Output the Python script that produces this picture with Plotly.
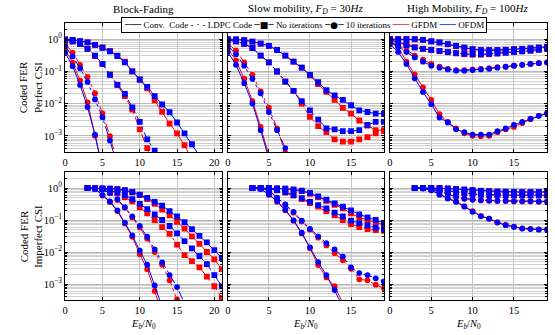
import plotly.graph_objects as go

W, H = 555, 335
RED = "#ff0000"
BLUE = "#0000ff"
FONT = "Liberation Serif"

# ---------------- data (x start, FER values) ----------------
# Panel 1: Block-Fading, perfect CSI (x starts at 0)
P1_CONV_NOIT_GFDM = [0.98, 0.95, 0.87, 0.79, 0.66, 0.55, 0.43, 0.31, 0.2, 0.1, 0.055, 0.03, 0.0126, 0.0056, 0.0024, 0.0012, 0.00052, 0.0002]
P1_CONV_NOIT_OFDM = [0.98, 0.95, 0.87, 0.79, 0.66, 0.54, 0.42, 0.3, 0.19, 0.1, 0.056, 0.033, 0.017, 0.0094, 0.0054, 0.0026, 0.0012, 0.00055, 0.00024]
P1_LDPC_NOIT_GFDM = [0.95, 0.85, 0.7, 0.5, 0.3, 0.17, 0.08, 0.038, 0.017, 0.0065, 0.0016, 0.00042, 0.0001]
P1_LDPC_NOIT_OFDM = [0.95, 0.85, 0.7, 0.5, 0.31, 0.17, 0.078, 0.038, 0.02, 0.0076, 0.0027, 0.00078, 0.00035, 0.0001]
P1_CONV_10IT_GFDM = [0.49, 0.185, 0.052, 0.011, 0.001, 0.0001]
P1_CONV_10IT_OFDM = [0.38, 0.145, 0.038, 0.0078, 0.0011, 0.0001]
P1_LDPC_10IT_GFDM = [0.72, 0.38, 0.16, 0.068, 0.021, 0.005, 0.00098, 0.00015]
P1_LDPC_10IT_OFDM = [0.6, 0.29, 0.125, 0.047, 0.0135, 0.0038, 0.00072, 0.00012]

# Panel 2: Slow mobility, perfect CSI (x starts at 0)
P2_CONV_NOIT_GFDM = [1.0, 0.98, 0.93, 0.84, 0.73, 0.62, 0.46, 0.31, 0.2, 0.13, 0.075, 0.04, 0.023, 0.013, 0.0074, 0.0049, 0.003, 0.0021, 0.0015, 0.0015]
P2_CONV_NOIT_OFDM = [1.0, 0.98, 0.93, 0.84, 0.73, 0.62, 0.46, 0.31, 0.2, 0.13, 0.078, 0.046, 0.026, 0.018, 0.013, 0.0089, 0.0062, 0.0055, 0.0049, 0.0049]
P2_LDPC_NOIT_GFDM = [0.93, 0.85, 0.72, 0.53, 0.31, 0.19, 0.099, 0.048, 0.025, 0.01, 0.0039, 0.002, 0.0013, 0.00078, 0.00066, 0.00066, 0.00078, 0.00091, 0.0012, 0.0014]
P2_LDPC_NOIT_OFDM = [0.93, 0.85, 0.72, 0.53, 0.31, 0.19, 0.099, 0.048, 0.025, 0.012, 0.0062, 0.0032, 0.0017, 0.0016, 0.0014, 0.0014, 0.0015, 0.0022, 0.0027, 0.0027]
P2_CONV_10IT_GFDM = [0.5, 0.22, 0.059, 0.012, 0.0019, 0.00025]
P2_CONV_10IT_OFDM = [0.4, 0.16, 0.043, 0.01, 0.0015, 0.0002]
P2_LDPC_10IT_GFDM = [0.72, 0.45, 0.19, 0.078, 0.024, 0.0075, 0.0017, 0.0003]
P2_LDPC_10IT_OFDM = [0.62, 0.34, 0.15, 0.059, 0.021, 0.0055, 0.0015, 0.00042]

# Panel 3: High mobility, perfect CSI (x starts at 0)
P3_CONV_NOIT_GFDM = [1.0, 1.0, 1.0, 0.98, 0.94, 0.85, 0.78, 0.69, 0.6, 0.53, 0.48, 0.45, 0.44, 0.45, 0.46, 0.48, 0.5, 0.52, 0.54, 0.57]
P3_CONV_NOIT_OFDM = [1.0, 1.0, 1.0, 1.0, 0.95, 0.86, 0.79, 0.7, 0.62, 0.55, 0.49, 0.46, 0.46, 0.46, 0.47, 0.49, 0.5, 0.52, 0.55, 0.58]
P3_LDPC_NOIT_GFDM = [0.97, 0.82, 0.67, 0.56, 0.5, 0.46, 0.42, 0.39, 0.36, 0.34, 0.33, 0.33, 0.34, 0.36, 0.38, 0.4, 0.42, 0.44, 0.47, 0.5]
P3_LDPC_NOIT_OFDM = [0.95, 0.8, 0.65, 0.55, 0.5, 0.46, 0.43, 0.4, 0.37, 0.35, 0.34, 0.34, 0.35, 0.36, 0.38, 0.4, 0.42, 0.44, 0.47, 0.5]
P3_CONV_10IT_GFDM = [0.79, 0.57, 0.2, 0.08, 0.032, 0.013, 0.0047, 0.0027, 0.0017, 0.0012, 0.001, 0.00098, 0.001, 0.0013, 0.0016, 0.0019, 0.0025, 0.0033, 0.0042, 0.005]
P3_CONV_10IT_OFDM = [0.68, 0.4, 0.17, 0.061, 0.023, 0.0096, 0.0037, 0.0026, 0.0016, 0.0013, 0.0011, 0.0011, 0.0011, 0.0014, 0.0017, 0.0022, 0.0027, 0.0034, 0.0042, 0.005]
P3_LDPC_10IT_GFDM = [0.9, 0.64, 0.45, 0.31, 0.23, 0.17, 0.14, 0.12, 0.11, 0.11, 0.115, 0.12, 0.125, 0.135, 0.14, 0.15, 0.16, 0.17, 0.18, 0.19]
P3_LDPC_10IT_OFDM = [0.85, 0.58, 0.4, 0.27, 0.2, 0.15, 0.13, 0.115, 0.105, 0.105, 0.11, 0.115, 0.12, 0.13, 0.14, 0.15, 0.16, 0.17, 0.18, 0.19]

# Panel 4: Block-Fading, imperfect CSI (x starts at 3)
P4_CONV_NOIT_GFDM = [1.0, 0.98, 0.97, 0.95, 0.92, 0.84, 0.73, 0.6, 0.45, 0.32, 0.21, 0.14, 0.087, 0.054, 0.031, 0.018, 0.01, 0.0059, 0.0029]
P4_CONV_NOIT_OFDM = [1.0, 0.98, 0.97, 0.95, 0.92, 0.85, 0.75, 0.62, 0.49, 0.37, 0.28, 0.19, 0.13, 0.085, 0.052, 0.032, 0.02, 0.0115, 0.0065]
P4_LDPC_NOIT_GFDM = [1.0, 0.97, 0.92, 0.83, 0.68, 0.52, 0.38, 0.25, 0.16, 0.1, 0.06, 0.037, 0.017, 0.008, 0.0052, 0.0033, 0.0017, 0.00085, 0.00037]
P4_LDPC_NOIT_OFDM = [1.0, 0.97, 0.93, 0.85, 0.72, 0.6, 0.45, 0.32, 0.22, 0.15, 0.1, 0.065, 0.038, 0.022, 0.013, 0.0075, 0.0042, 0.0019, 0.00085]
P4_CONV_10IT_GFDM = [1.0, 0.95, 0.58, 0.36, 0.19, 0.078, 0.03, 0.0085, 0.0029, 0.0006, 0.00012]
P4_CONV_10IT_OFDM = [1.0, 0.95, 0.6, 0.38, 0.2, 0.082, 0.033, 0.011, 0.004, 0.0009, 0.0002, 0.00004]
P4_LDPC_10IT_GFDM = [1.0, 0.97, 0.88, 0.68, 0.42, 0.24, 0.12, 0.058, 0.026, 0.01, 0.004, 0.0013, 0.00033, 0.00008]
P4_LDPC_10IT_OFDM = [1.0, 0.97, 0.9, 0.7, 0.45, 0.25, 0.13, 0.065, 0.03, 0.012, 0.0047, 0.0019, 0.0008, 0.00025]

# Panel 5: Slow mobility, imperfect CSI (x starts at 3)
P5_CONV_NOIT_GFDM = [1.0, 1.0, 1.0, 0.98, 0.95, 0.88, 0.8, 0.66, 0.52, 0.4, 0.3, 0.23, 0.16, 0.12, 0.1, 0.085, 0.07]
P5_CONV_NOIT_OFDM = [1.0, 1.0, 1.0, 0.98, 0.95, 0.9, 0.82, 0.7, 0.55, 0.43, 0.33, 0.26, 0.2, 0.15, 0.12, 0.1, 0.08]
P5_LDPC_NOIT_GFDM = [1.0, 0.97, 0.92, 0.85, 0.72, 0.58, 0.45, 0.34, 0.26, 0.19, 0.14, 0.1, 0.075, 0.06, 0.052, 0.048, 0.046]
P5_LDPC_NOIT_OFDM = [1.0, 0.97, 0.93, 0.86, 0.74, 0.6, 0.48, 0.37, 0.29, 0.23, 0.17, 0.13, 0.095, 0.08, 0.068, 0.058, 0.052]
P5_CONV_10IT_GFDM = [1.0, 0.95, 0.62, 0.37, 0.2, 0.095, 0.038, 0.013, 0.0039, 0.0016, 0.00085, 0.00025]
P5_CONV_10IT_OFDM = [1.0, 0.95, 0.63, 0.39, 0.21, 0.098, 0.04, 0.014, 0.0048, 0.0019, 0.00065, 0.0002]
P5_LDPC_10IT_GFDM = [1.0, 0.97, 0.84, 0.48, 0.3, 0.17, 0.09, 0.05, 0.028, 0.016, 0.009, 0.0055, 0.003, 0.0014, 0.0013, 0.00095, 0.00073]
P5_LDPC_10IT_OFDM = [1.0, 0.97, 0.85, 0.5, 0.31, 0.18, 0.095, 0.053, 0.031, 0.019, 0.012, 0.0072, 0.0033, 0.0022, 0.0019, 0.0015, 0.0012]

# Panel 6: High mobility, imperfect CSI (x starts at 3)
P6_CONV_NOIT_GFDM = [1.0, 1.0, 1.0, 1.0, 0.96, 0.92, 0.88, 0.84, 0.8, 0.78, 0.76, 0.75, 0.74, 0.73, 0.73, 0.73, 0.74]
P6_CONV_NOIT_OFDM = [1.0, 1.0, 1.0, 1.0, 0.97, 0.93, 0.9, 0.86, 0.82, 0.8, 0.78, 0.77, 0.76, 0.75, 0.75, 0.75, 0.76]
P6_LDPC_NOIT_GFDM = [1.0, 1.0, 0.96, 0.89, 0.8, 0.73, 0.68, 0.64, 0.61, 0.6, 0.59, 0.58, 0.58, 0.58, 0.58, 0.58, 0.58]
P6_LDPC_NOIT_OFDM = [1.0, 1.0, 0.97, 0.9, 0.82, 0.75, 0.7, 0.66, 0.63, 0.62, 0.61, 0.6, 0.6, 0.6, 0.6, 0.6, 0.6]
P6_CONV_10IT_GFDM = [1.0, 0.98, 0.86, 0.64, 0.48, 0.38, 0.27, 0.19, 0.135, 0.11, 0.085, 0.07, 0.062, 0.055, 0.053, 0.051, 0.051]
P6_CONV_10IT_OFDM = [1.0, 0.98, 0.85, 0.62, 0.47, 0.37, 0.26, 0.18, 0.13, 0.11, 0.083, 0.069, 0.061, 0.054, 0.052, 0.05, 0.05]
P6_LDPC_10IT_GFDM = [1.0, 0.98, 0.92, 0.8, 0.64, 0.52, 0.46, 0.43, 0.41, 0.4, 0.39, 0.39, 0.38, 0.38, 0.38, 0.37, 0.37]
P6_LDPC_10IT_OFDM = [1.0, 0.98, 0.92, 0.8, 0.65, 0.53, 0.47, 0.44, 0.42, 0.41, 0.4, 0.4, 0.39, 0.39, 0.39, 0.38, 0.38]

COL_TITLES = ["Block-Fading", "Slow mobility, <i>F<sub>D</sub></i> = 30<i>Hz</i>",
              "High Mobility, <i>F<sub>D</sub></i> = 100<i>Hz</i>"]
ROW_TITLES = ["Coded FER<br>Perfect CSI", "Coded FER<br>Imperfect CSI"]
X_LABEL = "<i>E<sub>b</sub></i>/<i>N</i><sub>0</sub>"
LEGEND_NAMES = ["Conv.\u00a0 Code", "LDPC Code", "No iterations", "10 iterations", "GFDM", "OFDM"]
Y_TICKS = [1e-3, 1e-2, 1e-1, 1]
Y_TICKTEXT = ["10<sup>\u22123</sup>", "10<sup>\u22122</sup>", "10<sup>\u22121</sup>", "10<sup>0</sup>"]

# panel specs: (row, col, xstart, series list)
PANELS = [
    (1, 1, 0, [P1_CONV_NOIT_GFDM, P1_CONV_NOIT_OFDM, P1_LDPC_NOIT_GFDM, P1_LDPC_NOIT_OFDM,
               P1_CONV_10IT_GFDM, P1_CONV_10IT_OFDM, P1_LDPC_10IT_GFDM, P1_LDPC_10IT_OFDM]),
    (1, 2, 0, [P2_CONV_NOIT_GFDM, P2_CONV_NOIT_OFDM, P2_LDPC_NOIT_GFDM, P2_LDPC_NOIT_OFDM,
               P2_CONV_10IT_GFDM, P2_CONV_10IT_OFDM, P2_LDPC_10IT_GFDM, P2_LDPC_10IT_OFDM]),
    (1, 3, 0, [P3_CONV_NOIT_GFDM, P3_CONV_NOIT_OFDM, P3_LDPC_NOIT_GFDM, P3_LDPC_NOIT_OFDM,
               P3_CONV_10IT_GFDM, P3_CONV_10IT_OFDM, P3_LDPC_10IT_GFDM, P3_LDPC_10IT_OFDM]),
    (2, 1, 3, [P4_CONV_NOIT_GFDM, P4_CONV_NOIT_OFDM, P4_LDPC_NOIT_GFDM, P4_LDPC_NOIT_OFDM,
               P4_CONV_10IT_GFDM, P4_CONV_10IT_OFDM, P4_LDPC_10IT_GFDM, P4_LDPC_10IT_OFDM]),
    (2, 2, 3, [P5_CONV_NOIT_GFDM, P5_CONV_NOIT_OFDM, P5_LDPC_NOIT_GFDM, P5_LDPC_NOIT_OFDM,
               P5_CONV_10IT_GFDM, P5_CONV_10IT_OFDM, P5_LDPC_10IT_GFDM, P5_LDPC_10IT_OFDM]),
    (2, 3, 3, [P6_CONV_NOIT_GFDM, P6_CONV_NOIT_OFDM, P6_LDPC_NOIT_GFDM, P6_LDPC_NOIT_OFDM,
               P6_CONV_10IT_GFDM, P6_CONV_10IT_OFDM, P6_LDPC_10IT_GFDM, P6_LDPC_10IT_OFDM]),
]
# style of the 8 series in each panel: (dash, symbol, color)
STYLES = [("solid", "square", RED), ("solid", "square", BLUE),
          ("dashdot", "square", RED), ("dashdot", "square", BLUE),
          ("solid", "circle", RED), ("solid", "circle", BLUE),
          ("dashdot", "circle", RED), ("dashdot", "circle", BLUE)]

# layout geometry (pixels)
COLS_PX = [(62.5, 220), (226, 383), (389, 547)]
ROWS_PX = [(23, 152), (172, 300)]
X_RANGES = [[0, 21], [0, 19], [0, 19]]
X_TICKS = [[0, 5, 10, 15, 20], [0, 5, 10, 15], [0, 5, 10, 15]]

fig = go.Figure()

minor_vals = [k * 10.0 ** e for e in range(-4, 1) for k in range(2, 10)]

for (row, col, x0, series) in PANELS:
    idx = (row - 1) * 3 + col
    xa = "x" if idx == 1 else f"x{idx}"
    ya = "y" if idx == 1 else f"y{idx}"
    for order in [0, 2, 4, 6, 1, 3, 5, 7]:
        vals = series[order]
        dash, sym, color = STYLES[order]
        xs = list(range(x0, x0 + len(vals)))
        fig.add_trace(go.Scatter(
            x=xs, y=vals, xaxis=xa, yaxis=ya, mode="lines+markers",
            line=dict(color=color, width=1.0, dash=dash),
            marker=dict(symbol=sym, size=5.8, color=color, line=dict(width=0)),
            showlegend=False, hoverinfo="skip"))

layout = dict(width=W, height=H, margin=dict(l=0, r=0, t=0, b=0),
              paper_bgcolor="white", plot_bgcolor="white",
              font=dict(family=FONT, size=10, color="black"),
              showlegend=False)

for r in range(2):
    for c in range(3):
        idx = r * 3 + c + 1
        xk = "xaxis" if idx == 1 else f"xaxis{idx}"
        yk = "yaxis" if idx == 1 else f"yaxis{idx}"
        xa = "x" if idx == 1 else f"x{idx}"
        ya = "y" if idx == 1 else f"y{idx}"
        x0p, x1p = COLS_PX[c]
        y0p, y1p = ROWS_PX[r]
        layout[xk] = dict(domain=[x0p / W, x1p / W], anchor=ya, range=X_RANGES[c],
                          tickvals=X_TICKS[c], ticks="inside", ticklen=3, tickcolor="black",
                          showline=True, linecolor="black", linewidth=1.2, mirror="allticks",
                          showgrid=True, gridcolor="#c4c4c4", gridwidth=1,
                          zeroline=False, tickfont=dict(size=10.5, family=FONT))
        ydict = dict(domain=[1 - y1p / H, 1 - y0p / H], anchor=xa, type="log",
                     range=[-3.5, 0.5], tickvals=Y_TICKS,
                     ticks="inside", ticklen=3, tickcolor="black",
                     showline=True, linecolor="black", linewidth=1.2, mirror="allticks",
                     showgrid=True, gridcolor="#b8b8b8", gridwidth=1,
                     minor=dict(tickvals=minor_vals, showgrid=True, gridcolor="#d0d0d0",
                                gridwidth=0.8, ticks="inside", ticklen=2, tickcolor="black"),
                     zeroline=False, tickfont=dict(size=10.5, family=FONT))
        if c == 0:
            ydict["ticktext"] = Y_TICKTEXT
        else:
            ydict["showticklabels"] = False
        layout[yk] = ydict

annotations = []
for c in range(3):
    cx = (COLS_PX[c][0] + COLS_PX[c][1]) / 2 / W
    annotations.append(dict(text=COL_TITLES[c], x=cx, y=1 - 9 / H, xref="paper", yref="paper",
                            xanchor="center", yanchor="middle",
                            showarrow=False, font=dict(size=11, family=FONT)))
    annotations.append(dict(text=X_LABEL, x=cx, y=1 - 324 / H, xref="paper", yref="paper",
                            xanchor="center", yanchor="middle",
                            showarrow=False, font=dict(size=10.5, family=FONT)))
for r in range(2):
    cy = 1 - (ROWS_PX[r][0] + ROWS_PX[r][1]) / 2 / H
    annotations.append(dict(text=ROW_TITLES[r], x=28 / W, y=cy, xref="paper", yref="paper",
                            xanchor="center", yanchor="middle",
                            showarrow=False, textangle=-90, font=dict(size=11, family=FONT)))

# legend box (text-based key, matching the one-row boxed legend of the reference)
SYM = "font-family:DejaVu Sans"
legend_parts = [
    f"<span style='{SYM}'>\u2500\u2500\u2500</span> {LEGEND_NAMES[0]}",
    f"<span style='{SYM}'>- \u00b7 -</span> {LEGEND_NAMES[1]}",
    f"<span style='{SYM}'>\u2500\u25a0\u2500</span> {LEGEND_NAMES[2]}",
    f"<span style='{SYM}'>\u2500\u25cf\u2500</span> {LEGEND_NAMES[3]}",
    f"<span style='{SYM};color:{RED}'>\u2500\u2500\u2500</span> {LEGEND_NAMES[4]}",
    f"<span style='{SYM};color:{BLUE}'>\u2500\u2500\u2500</span> {LEGEND_NAMES[5]}",
]
annotations.append(dict(text=" ".join(legend_parts), x=302.5 / W, y=1 - 25.5 / H,
                        xref="paper", yref="paper", xanchor="center", yanchor="middle",
                        showarrow=False, bgcolor="white", bordercolor="black", borderwidth=1,
                        borderpad=2, font=dict(size=9, family=FONT)))
layout["annotations"] = annotations

fig.update_layout(**layout)
fig.write_html("out.html")
